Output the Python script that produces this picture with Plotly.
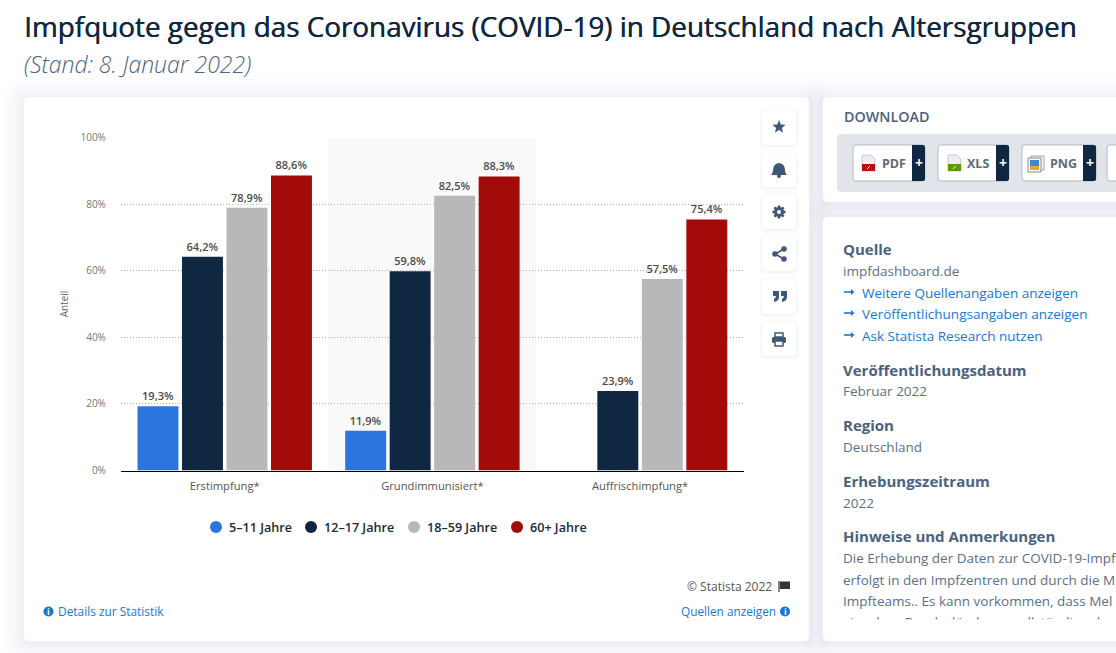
import math
import re
import plotly.graph_objects as go

# ---- data ----
categories = ["Erstimpfung*", "Grundimmunisiert*", "Auffrischimpfung*"]
series_names = ["5–11 Jahre", "12–17 Jahre", "18–59 Jahre", "60+ Jahre"]
values_5_11 = [19.3, 11.9, None]
values_12_17 = [64.2, 59.8, 23.9]
values_18_59 = [78.9, 82.5, 57.5]
values_60 = [88.6, 88.3, 75.4]
series_colors = ["#2a75de", "#0f2741", "#b8b8b8", "#a30b0b"]
y_ticks = [0, 20, 40, 60, 80, 100]
y_tick_labels = ["0%", "20%", "40%", "60%", "80%", "100%"]

W, H = 1116, 653
FONT = "Open Sans"
INK = "#4a6280"
LINK = "#1678d2"


def fx(x):
    return x / W


def fy(y):
    return 1 - y / H


def path(s):
    toks = re.findall(r"[MLQCZ]|-?\d+\.?\d*", s)
    out, isx = [], True
    for t in toks:
        if t in "MLQCZ":
            out.append(t)
            isx = True
        else:
            v = float(t)
            out.append(f"{fx(v):.6f}" if isx else f"{fy(v):.6f}")
            isx = not isx
    return " ".join(out)


shapes, notes = [], []


def add_path(s, fill="rgba(0,0,0,0)", line=None, lw=1, opacity=1, layer="below"):
    shapes.append(dict(type="path", xref="paper", yref="paper", path=path(s), fillcolor=fill,
                       line=dict(color=line or "rgba(0,0,0,0)", width=lw if line else 0),
                       opacity=opacity, layer=layer))


def rr(x0, y0, x1, y1, r, **kw):
    add_path(f"M {x0+r} {y0} L {x1-r} {y0} Q {x1} {y0} {x1} {y0+r} L {x1} {y1-r} Q {x1} {y1} {x1-r} {y1} "
             f"L {x0+r} {y1} Q {x0} {y1} {x0} {y1-r} L {x0} {y0+r} Q {x0} {y0} {x0+r} {y0} Z", **kw)


def card_shadow(x0, y0, x1, y1, r=5):
    for g, op in ((24, .005), (20, .006), (16, .007), (12, .008), (8, .009), (5, .010), (3, .010), (1, .012)):
        rr(x0 - g, y0 - g + 2, x1 + g, y1 + g + 2, r + g, fill="#2a3f5f", opacity=op)


def circ(cx, cy, r, fill, layer="above"):
    shapes.append(dict(type="circle", xref="paper", yref="paper", x0=fx(cx - r), x1=fx(cx + r),
                       y0=fy(cy + r), y1=fy(cy - r), fillcolor=fill, line=dict(width=0), layer=layer))


def txt(x, y, s, size=14, color=INK, weight=400, style="normal", anchor="left", family=FONT, shadow=None):
    f = dict(family=family, size=size, color=color, weight=weight, style=style)
    if shadow:
        f["shadow"] = shadow
    notes.append(dict(xref="paper", yref="paper", x=fx(x), y=fy(y), text=s, showarrow=False,
                      xanchor=anchor, yanchor="middle", borderpad=0, font=f))


# ---- page furniture ----
card_boxes = [(24, 97, 809, 641), (823, 97, 1130, 202), (823, 217, 1130, 641)]
for b in card_boxes:
    card_shadow(*b)
for x0, y0, x1, y1 in card_boxes:
    rr(x0, y0, x1, y1, 5, fill="#ffffff")

# side buttons
btn_ys = [(110, 145), (153, 187), (195, 229), (237, 271), (279, 314), (322, 356)]
for a, b in btn_ys:
    for g, op in ((4, .012), (2, .016), (1, .02)):
        rr(762 - g, a - g + 1, 796 + g, b + g + 1, 4 + g, fill="#2a3f5f", opacity=op)
    rr(762, a, 796, b, 4, fill="#ffffff")

IC = "#3f5878"
# star
pts = []
for i in range(10):
    r = 7 if i % 2 == 0 else 3
    a = -math.pi / 2 + i * math.pi / 5
    pts.append((779 + r * math.cos(a), 127 + r * math.sin(a)))
add_path("M " + " L ".join(f"{p[0]:.2f} {p[1]:.2f}" for p in pts) + " Z", fill=IC, layer="above")
# bell
add_path("M 779 163 Q 785 164 785 170 Q 785 173 787 175 L 771 175 Q 773 173 773 170 Q 773 164 779 163 Z", fill=IC, layer="above")
circ(779, 176, 2, IC)
# gear
for i in range(4):
    a = i * math.pi / 4
    dx, dy = 6.5 * math.cos(a), 6.5 * math.sin(a)
    add_path(f"M {779-dx:.2f} {212-dy:.2f} L {779+dx:.2f} {212+dy:.2f}", line=IC, lw=2.6, layer="above")
circ(779, 212, 5, IC)
circ(779, 212, 2, "#ffffff")
# share
add_path("M 784 249 L 775 254 L 784 259", line=IC, lw=1.6, layer="above")
circ(784, 249, 2.8, IC)
circ(775, 254, 2.8, IC)
circ(784, 259, 2.8, IC)
# quotes
for qx in (773, 781):
    add_path(f"M {qx} 291 L {qx+6} 291 L {qx+6} 297 Q {qx+6} 301 {qx+1} 302 L {qx+1} 299 Q {qx+3} 298 {qx+3} 296 L {qx} 296 Z",
             fill=IC, layer="above")
# printer
add_path("M 775 333 L 783 333 L 783 337 L 775 337 Z", line=IC, lw=1.5, layer="above")
rr(772, 337, 786, 343, 1.5, fill=IC, layer="above")
add_path("M 775 341 L 783 341 L 783 346 L 775 346 Z", fill="#ffffff", line=IC, lw=1.5, layer="above")

# download strip
rr(837, 134, 1130, 192, 4, fill="#e1e4e8")
buttons = [(853, 925, 912, "PDF", 881), (938, 1009, 996, "XLS", 966), (1022, 1096, 1083, "PNG", 1049), (1107, 1180, 1170, "", 0)]
for x0, x1, xd, lab, lx in buttons:
    rr(x0, 145, x1, 181, 3, fill="#ffffff", line="#aebccb", lw=1)
    if lab:
        rr(xd, 145, x1, 181, 2, fill="#0f2741")
        add_path(f"M {xd} 145 L {xd+4} 145 L {xd+4} 181 L {xd} 181 Z", fill="#0f2741")
        txt(lx, 163, lab, size=12.5, color="#5f6b78", weight=700)
        txt((xd + x1) / 2, 162.5, "+", size=14, color="#ffffff", weight=700, anchor="center")
# file icons
for ix, col in ((862, "#c00d0d"), (948, "#5c9a0c")):
    add_path(f"M {ix} 155 L {ix+9} 155 L {ix+13} 159 L {ix+13} 171 L {ix} 171 Z", fill="#eceef0", line="#b5b9bd", lw=0.7, layer="above")
    add_path(f"M {ix} 164 L {ix+13} 164 L {ix+13} 171 L {ix} 171 Z", fill=col, layer="above")
    add_path(f"M {ix+5} 169 L {ix+8} 166", line="#ffffff", lw=1, layer="above")
add_path("M 1031 156 L 1044 156 L 1044 170 L 1031 170 Z", fill="#f2f2f2", line="#8a8f94", lw=0.8, layer="above")
add_path("M 1028 158 L 1041 158 L 1041 172 L 1028 172 Z", fill="#f7f7f7", line="#6f7479", lw=0.8, layer="above")
add_path("M 1030 160 L 1039 160 L 1039 166 L 1030 166 Z", fill="#3d86d6", layer="above")
add_path("M 1030 166 L 1039 166 L 1039 170 L 1030 170 Z", fill="#e0a93a", layer="above")

# highlighted category band, in axis coordinates
shapes.append(dict(type="rect", xref="x", yref="y", x0=0.5, x1=1.5, y0=0, y1=100,
                   fillcolor="#f9f9fa", line=dict(width=0), layer="below"))

# ---- legend row ----
legend_circle_x = [216, 311, 414, 517]
for name, col, cx in zip(series_names, series_colors, legend_circle_x):
    circ(cx, 527, 6, col)
    txt(cx + 11.5, 527, name, size=12.6, color="#1a2a3a", weight=600)

# ---- texts ----
txt(23, 25.5, "Impfquote gegen das Coronavirus (COVID-19) in Deutschland nach Altersgruppen", size=27.85, color="#0f2741",
    weight=500, shadow="0.45px 0 0 #0f2741")
txt(23, 64, "(Stand: 8. Januar 2022)", size=23, color="#4a6484", style="italic", weight=300)
txt(842.5, 116.5, "DOWNLOAD", size=14.3, color="#4a6280", weight=600)

txt(842, 249.5, "Quelle", size=15, weight=700)
txt(842, 271, "impfdashboard.de", size=13.5, color="#5a6f88")
for yy, s in ((293, "Weitere Quellenangaben anzeigen"), (314, "Veröffentlichungsangaben anzeigen"), (336, "Ask Statista Research nutzen")):
    add_path(f"M 844 {yy-1} L 853 {yy-1}", line=LINK, lw=1.6, layer="above")
    add_path(f"M 851 {yy-4} L 854.5 {yy-1} L 851 {yy+2} Z", fill=LINK, layer="above")
    txt(861, yy, s, size=13.5, color=LINK)
txt(842, 369.5, "Veröffentlichungsdatum", size=15, weight=700)
txt(842, 391, "Februar 2022", size=13.5, color="#5a6f88")
txt(842, 425, "Region", size=15, weight=700)
txt(842, 447, "Deutschland", size=13.5, color="#5a6f88")
txt(842, 481, "Erhebungszeitraum", size=15, weight=700)
txt(842, 503, "2022", size=13.5, color="#5a6f88")
txt(842, 536, "Hinweise und Anmerkungen", size=15, weight=700)
for yy, s in ((558, "Die Erhebung der Daten zur COVID-19-Impf"),
              (580, "erfolgt in den Impfzentren und durch die M"),
              (601, "Impfteams.. Es kann vorkommen, dass Mel"),
              (622, "einzelner Bundesländer unvollständig oder")):
    txt(842, yy, s, size=13.5, color="#5a6f88")
# the last line is cut off by the scroll area of the card
notes.append(dict(xref="paper", yref="paper", x=fx(972), y=fy(629), text=" ", showarrow=False,
                  width=290, height=17, bgcolor="#ffffff", xanchor="center", yanchor="middle"))

txt(773, 586.5, "© Statista 2022", size=12, color="#555555", anchor="right")
add_path("M 779 581 L 779 592", line="#333333", lw=1.2, layer="above")
add_path("M 780 581.5 L 790 581.5 L 790 589 L 780 589 Z", fill="#333333", layer="above")
BL = "#1678d2"
for cx in (48.5, 785):
    circ(cx, 611.5, 5, BL)
    txt(cx, 611, "i", size=9, color="#ffffff", weight=700, anchor="center")
txt(56.5, 611, "Details zur Statistik", size=11.9, color=BL)
txt(776.5, 611, "Quellen anzeigen", size=11.8, color=BL, anchor="right")

# ---- chart ----
fig = go.Figure()
all_vals = [values_5_11, values_12_17, values_18_59, values_60]
for name, vals, col in zip(series_names, all_vals, series_colors):
    labels = [("" if v is None else f"{v:.1f}%".replace(".", ",")) for v in vals]
    fig.add_trace(go.Bar(x=categories, y=vals, name=name,
                         marker=dict(color=col, line=dict(width=3, color="rgba(0,0,0,0)")),
                         text=labels, textposition="outside", cliponaxis=False, showlegend=False,
                         textfont=dict(family=FONT, size=11, color="#4a4a4a", weight=600), hoverinfo="skip"))

fig.update_layout(
    width=W, height=H, margin=dict(l=0, r=0, t=0, b=0, pad=0), autosize=False, showlegend=False,
    paper_bgcolor="#ffffff", plot_bgcolor="rgba(0,0,0,0)",
    barmode="group", bargap=0.143, bargroupgap=0.08,
    shapes=shapes, annotations=notes,
    font=dict(family=FONT),
    xaxis=dict(domain=[fx(120.9), fx(743.9)], range=[-0.5, 2.5], type="category", showgrid=False, automargin=False,
               showline=True, linecolor="#000000", linewidth=1.2, ticks="", zeroline=False,
               tickfont=dict(family=FONT, size=11.2, color="#555555"), ticklabelstandoff=5),
    yaxis=dict(domain=[fy(470.5), fy(137.5)], range=[0, 100], tickvals=y_ticks, ticktext=y_tick_labels, automargin=False,
               showgrid=True, gridcolor="#b5b5b5", griddash="1px,2px", gridwidth=1, zeroline=False,
               ticks="", tickfont=dict(family=FONT, size=10, color="#777777"), ticklabelstandoff=14,
               title=dict(text="Anteil", font=dict(family=FONT, size=10, color="#666666"), standoff=9)),
)

fig.write_html("out.html", config=dict(displayModeBar=False),
               post_script="document.body.style.margin='0';document.body.style.overflow='hidden';")
